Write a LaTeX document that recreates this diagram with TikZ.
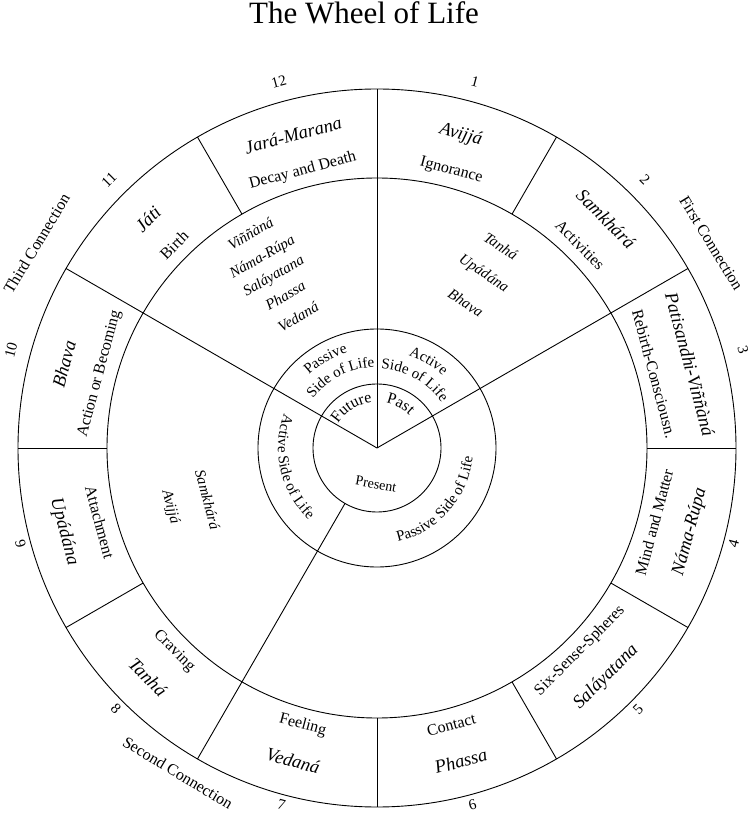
\documentclass[tikz,border=0pt]{standalone}
\usepackage{fontspec}
\setmainfont{Liberation Serif}
\usepackage{tikz}
\usetikzlibrary{decorations.text}

\tikzset{
  pali/.style={font=\fontsize{18.5}{18.5}\selectfont\itshape},
  english/.style={font=\fontsize{16}{16}\selectfont},
  sector/.style={font=\fontsize{15}{15}\selectfont\itshape},
  numlabel/.style={font=\fontsize{15}{15}\selectfont, anchor=base},
  connection/.style={font=\fontsize{16}{16}\selectfont},
}

\begin{document}
\begin{tikzpicture}[x=1pt, y=1pt, line width=0.9pt]
\useasboundingbox (-377,-368) rectangle (373,448);
\coordinate (center) at (0,0);

\node[font=\fontsize{31}{31}\selectfont, anchor=base] (title) at (-13,424) {The Wheel of Life};

\draw (center) circle[radius=359];
\draw (center) circle[radius=270];
\draw (center) circle[radius=119];
\draw (center) circle[radius=64];

\foreach \a in {120,60,0,-30,-60,-90,180,210}
  \draw (\a:270) -- (\a:359);
\foreach \a in {90,30,150}
  \draw (center) -- (\a:359);
\draw (-120:64) -- (-120:359);

\foreach \n/\a/\p/\e in {1/75/Avijjá/Ignorance, 2/45/Samkhárá/Activities,
    3/15/Patisandhi-Viññàná/Rebirth-Consciousn., 4/-15/Náma-Rúpa/Mind and Matter,
    5/-45/Saláyatana/Six-Sense-Spheres, 6/-75/Phassa/Contact,
    7/-105/Vedaná/Feeling, 8/-135/Tanhá/Craving,
    9/-165/Upádána/Attachment, 10/165/Bhava/Action or Becoming,
    11/135/Játi/Birth, 12/105/Jará-Marana/Decay and Death}
{
  \pgfmathsetmacro\rot{\a>0 ? \a-90 : \a+90}
  \node[pali, rotate=\rot] (pali-\n) at (\a:324) {\p};
  \node[english, rotate=\rot] (eng-\n) at (\a:287) {\e};
  \node[numlabel, rotate=\rot] (num-\n) at (\a:374) {\n};
}

\node[connection, rotate=-58.5] (first) at (31.5:392) {First Connection};
\node[connection, rotate=-31] (second) at (-121.5:381) {Second Connection};
\node[connection, rotate=59] (third) at (149:397) {Third Connection};

\node[sector, rotate=30] (vinnana) at (120.5:249) {Viññàná};
\node[sector, rotate=30] (namarupa) at (121:222) {Náma-Rúpa};
\node[sector, rotate=30] (salayatana) at (121:200) {Saláyatana};
\node[sector, rotate=30] (phassa) at (121:178) {Phassa};
\node[sector, rotate=30] (vedana) at (121:153) {Vedaná};

\node[sector, rotate=-33] (tanha) at (58.5:237) {Tanhá};
\node[sector, rotate=-33] (upadana) at (58.5:204) {Upádána};
\node[sector, rotate=-33] (bhava) at (58.5:170) {Bhava};

\node[sector, rotate=-75] (avijja) at (-164:215) {Avijjá};
\node[sector, rotate=-75] (samkhara) at (-163:177) {Samkhárá};

\path[decorate, decoration={text along path, text align=center,
    text={|\fontsize{15}{15}\selectfont|Passive}}]
  (150:100) arc[start angle=150, end angle=90, radius=100];
\path[decorate, decoration={text along path, text align=center,
    text={|\fontsize{15}{15}\selectfont|Side of Life}}]
  (160:81) arc[start angle=160, end angle=74, radius=81];
\path[decorate, decoration={text along path, text align=center,
    text={|\fontsize{15}{15}\selectfont|Active}}]
  (90:98) arc[start angle=90, end angle=29, radius=98];
\path[decorate, decoration={text along path, text align=center,
    text={|\fontsize{15}{15}\selectfont|Side of Life}}]
  (104:79) arc[start angle=104, end angle=18, radius=79];
\path[decorate, decoration={text along path, text align=center,
    text={|\fontsize{15}{15}\selectfont|Active Side of Life}}]
  (150:99) arc[start angle=150, end angle=236, radius=99];
\path[decorate, decoration={text along path, text align=center,
    text={|\fontsize{15}{15}\selectfont|Passive Side of Life}}]
  (-85:96) arc[start angle=-85, end angle=2, radius=96];

\path[decorate, decoration={text along path, text align=center,
    text={|\fontsize{16}{16}\selectfont|Future}}]
  (162:46) arc[start angle=162, end angle=82, radius=46];
\path[decorate, decoration={text along path, text align=center,
    text={|\fontsize{16}{16}\selectfont|Past}}]
  (97:46) arc[start angle=97, end angle=27, radius=46];
\node[font=\fontsize{14}{14}\selectfont, rotate=-10] (present) at (-1,-36) {Present};
\end{tikzpicture}
\end{document}
